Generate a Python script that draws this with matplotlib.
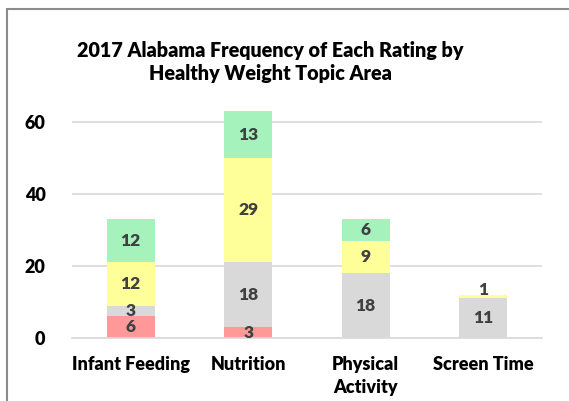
import numpy as np
import matplotlib.pyplot as plt
from matplotlib.patches import Rectangle

categories = ["Infant Feeding", "Nutrition", "Physical\nActivity", "Screen Time"]
red_vals = [6, 3, 0, 0]
gray_vals = [3, 18, 18, 11]
yellow_vals = [12, 29, 9, 1]
green_vals = [12, 13, 6, 0]

colors = ["#FF9999", "#D9D9D9", "#FFFF99", "#A6F2BC"]
series = [red_vals, gray_vals, yellow_vals, green_vals]

plt.rcParams["font.family"] = ["Lato", "DejaVu Sans"]
plt.rcParams["font.weight"] = "bold"

fig = plt.figure(figsize=(5.69, 4.01), dpi=100)
ax = fig.add_axes([0.1265, 0.157, 0.826, 0.6285])

x = np.arange(len(categories))
bottom = np.zeros(len(categories))
for vals, col in zip(series, colors):
    vals = np.array(vals, dtype=float)
    ax.bar(x, vals, width=0.405, bottom=bottom, color=col, zorder=2)
    for xi, b, v in zip(x, bottom, vals):
        if v > 0:
            yc = b + v / 2
            if v < 2:
                # too thin for the label, put it just above
                yc = b + v + 1.4
            ax.text(xi, yc, f"{int(v)}", ha="center", va="center",
                    fontsize=12.5, fontweight="heavy", color="#404040", zorder=3)
    bottom += vals

ax.set_xlim(-0.5, 3.5)
ax.set_ylim(0, 70)
ax.set_yticks([0, 20, 40, 60])
ax.yaxis.grid(True, color="#D9D9D9", linewidth=1.2, zorder=0)
ax.set_axisbelow(True)
for s in ["top", "right", "left"]:
    ax.spines[s].set_visible(False)
ax.spines["bottom"].set_color("#D9D9D9")
ax.spines["bottom"].set_linewidth(1.2)
ax.tick_params(axis="both", length=0, labelsize=13)
ax.tick_params(axis="y", pad=19)
ax.tick_params(axis="x", pad=13)
ax.set_xticks(x)
ax.set_xticklabels(categories, fontweight="heavy", linespacing=1.4)
for lab in ax.get_yticklabels():
    lab.set_fontweight("heavy")

fig.text(0.475, 0.845, "2017 Alabama Frequency of Each Rating by\nHealthy Weight Topic Area",
         ha="center", va="center", fontsize=14.2, fontweight="heavy",
         linespacing=1.25, color="black")

fig.patches.append(Rectangle((0.0115, -0.1), 1.2, 1.078, transform=fig.transFigure,
                             fill=False, edgecolor="#8C8C8C", linewidth=1.5))

fig.savefig("out.png", dpi=100)
